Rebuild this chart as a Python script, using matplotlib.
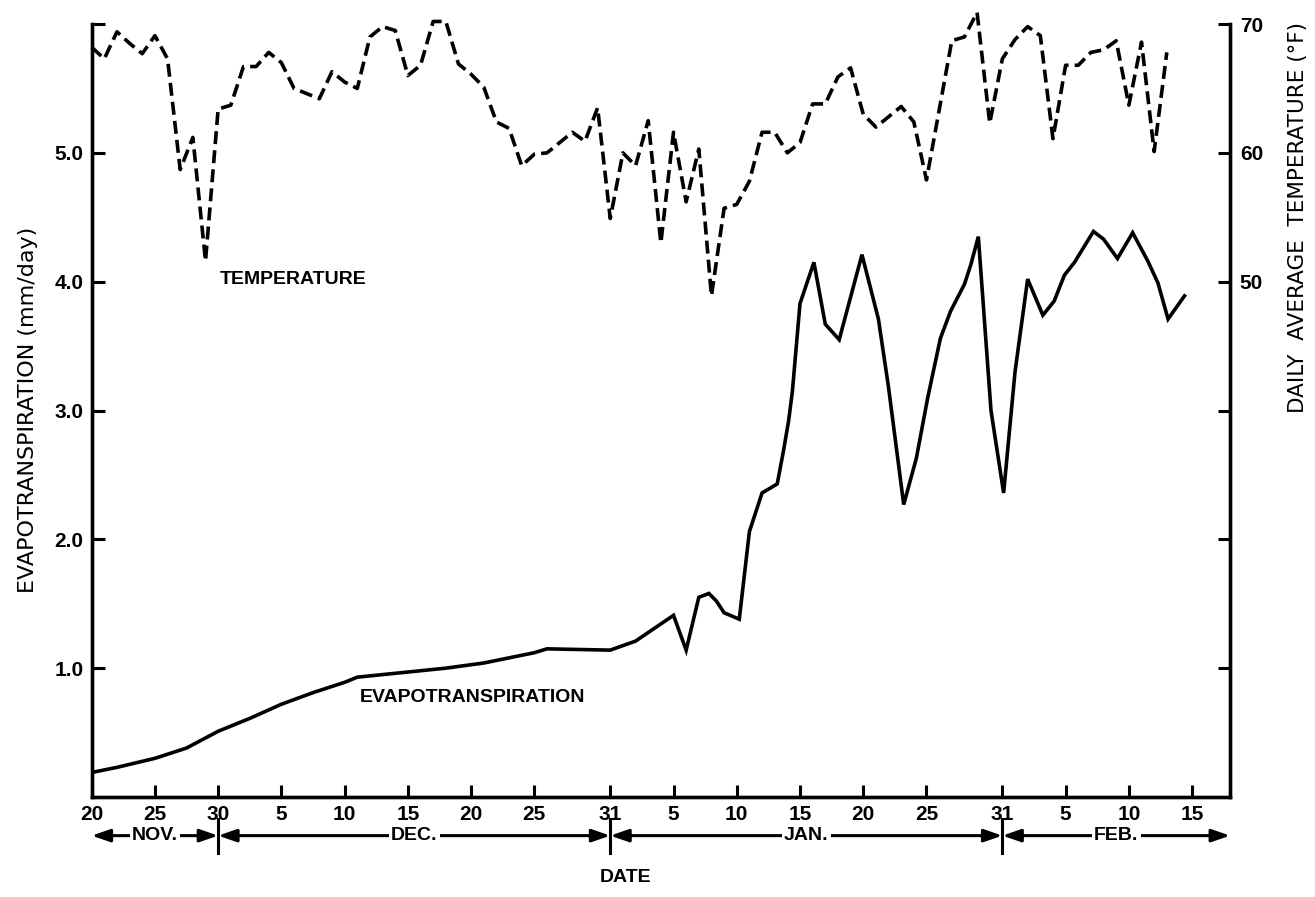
import matplotlib
matplotlib.use('Agg')
import matplotlib.pyplot as plt
from matplotlib.transforms import blended_transform_factory

# day 0 = Nov 20
et_days = [0, 2, 5, 7.5, 10, 12.5, 15, 17.5, 20, 21, 25, 28, 31, 33, 35, 36, 41, 43,
           46, 47, 48, 48.8, 49.4, 50, 51.2, 52, 53, 54.2, 54.7, 55.1, 55.4, 56, 57.1,
           58, 59.1, 60.9, 62.2, 63, 64.2, 65.2, 66.1, 67.1, 67.9, 69, 69.5, 70.1, 71.1,
           72.1, 73, 74, 75.2, 76.1, 76.9, 77.7, 79.2, 80, 81.1, 82.3, 83.5, 84.3, 85.1, 86.4]
et_values = [0.19, 0.23, 0.30, 0.38, 0.51, 0.61, 0.72, 0.81, 0.89, 0.93, 0.97, 1.00, 1.04,
             1.08, 1.12, 1.15, 1.14, 1.21, 1.41, 1.14, 1.55, 1.58, 1.52, 1.43, 1.38, 2.06,
             2.36, 2.43, 2.69, 2.92, 3.15, 3.83, 4.15, 3.67, 3.55, 4.21, 3.71, 3.18, 2.27,
             2.63, 3.10, 3.56, 3.77, 3.98, 4.13, 4.35, 3.00, 2.36, 3.30, 4.02, 3.74, 3.85,
             4.05, 4.15, 4.39, 4.33, 4.18, 4.38, 4.16, 3.99, 3.71, 3.89]

temp_days = [0, 1, 2, 3, 4, 5, 6, 7, 8, 9, 10, 11, 12, 13, 14, 15, 16, 17, 18, 19, 20,
             21, 22, 23, 24, 25, 26, 27, 28, 29, 30, 31, 32, 33, 34, 35, 36, 37, 38, 39,
             40, 41, 42, 43, 44, 45, 46, 47, 48, 49, 50, 51, 52, 53, 54, 55, 56, 57, 58,
             59, 60, 61, 62, 63, 64, 65, 66, 68, 69, 70, 71, 72, 73, 74, 75, 76, 77, 78,
             79, 80, 81, 82, 83, 84, 85]
temp_values = [68.2, 67.3, 69.4, 68.5, 67.7, 69.1, 67.3, 58.7, 61.2, 51.6, 63.4, 63.7,
               66.7, 66.7, 67.8, 67.0, 65.0, 64.6, 64.2, 66.3, 65.5, 65.0, 69.0, 69.8,
               69.5, 66.0, 66.8, 70.2, 70.2, 66.9, 66.1, 65.1, 62.4, 61.9, 59.0, 59.9,
               60.0, 60.8, 61.6, 60.9, 63.5, 54.9, 60.0, 59.0, 62.5, 53.0, 61.6, 56.2,
               60.3, 48.9, 55.7, 56.0, 57.8, 61.6, 61.6, 60.0, 60.8, 63.8, 63.8, 65.9,
               66.6, 63.0, 62.0, 62.8, 63.6, 62.4, 57.9, 68.7, 69.0, 70.9, 62.3, 67.3,
               68.8, 69.8, 69.1, 61.1, 66.8, 66.8, 67.8, 68.0, 68.7, 63.7, 68.6, 60.1, 67.8]

tick_days = [0, 5, 10, 15, 20, 25, 30, 35, 41, 46, 51, 56, 61, 66, 72, 77, 82, 87]
tick_labels = ['20', '25', '30', '5', '10', '15', '20', '25', '31',
               '5', '10', '15', '20', '25', '31', '5', '10', '15']
months = ['NOV.', 'DEC.', 'JAN.', 'FEB.']
month_edges = [0, 10, 41, 72, 90]

et_ticks = [1, 2, 3, 4, 5, 6]
et_tick_labels = ['1.0', '2.0', '3.0', '4.0', '5.0', '']
temp_ticks = [20, 30, 40, 50, 60, 70]
temp_tick_labels = ['', '', '', '50', '60', '70']

plt.rcParams['font.family'] = 'DejaVu Sans'
bold = dict(family='Liberation Sans', weight='bold')

fig = plt.figure(figsize=(13.15, 8.97), dpi=100)
ax = fig.add_axes([0.0697, 0.1115, 0.8657, 0.8617])
ax2 = ax.twinx()

ax.plot(et_days, et_values, color='black', lw=2.6, solid_joinstyle='miter')
ax2.plot(temp_days, temp_values, color='black', lw=2.6, dashes=(3.6, 1.7), clip_on=False)

ax.set_xlim(0, 90)
ax.set_ylim(0, 6)
ax2.set_ylim(10, 70)

for a in (ax, ax2):
    a.spines['top'].set_visible(False)
    for s in ('left', 'right', 'bottom'):
        a.spines[s].set_linewidth(2.4)

ax.set_xticks(tick_days)
ax.set_xticklabels(tick_labels, fontsize=15, **bold)
ax.set_yticks(et_ticks)
ax.set_yticklabels(et_tick_labels, fontsize=15, **bold)
ax2.set_yticks(temp_ticks)
ax2.set_yticklabels(temp_tick_labels, fontsize=15, **bold)
ax.tick_params(axis='both', direction='in', length=9, width=2.2, pad=6)
ax2.tick_params(axis='y', direction='in', length=9, width=2.2, pad=7)

# month spans with arrows below the date ticks
trans = blended_transform_factory(ax.transData, ax.transAxes)
row_y = -0.050
for name, start, end in zip(months, month_edges[:-1], month_edges[1:]):
    ax.annotate('', xy=(start, row_y), xytext=(end, row_y), xycoords=trans,
                textcoords=trans, annotation_clip=False,
                arrowprops=dict(arrowstyle='<|-|>,head_length=1.1,head_width=0.38',
                                color='black', lw=2.2, shrinkA=0, shrinkB=0))
    ax.text((start + end) / 2, row_y, name, transform=trans, ha='center', va='center',
            fontsize=14, bbox=dict(facecolor='white', edgecolor='none', pad=1.5), **bold)
for edge in month_edges[1:-1]:
    ax.plot([edge, edge], [-0.029, -0.072], transform=trans, color='black', lw=2.2,
            clip_on=False)

ax.text(15.9, 4.02, 'TEMPERATURE', ha='center', va='center', fontsize=14, **bold)
ax.text(30.1, 0.775, 'EVAPOTRANSPIRATION', ha='center', va='center', fontsize=14, **bold)

fig.text(0.021, 0.543, 'EVAPOTRANSPIRATION (mm/day)', rotation=90, ha='center',
         va='center', fontsize=16)
fig.text(0.987, 0.758, 'DAILY  AVERAGE  TEMPERATURE (°F)', rotation=90, ha='center',
         va='center', fontsize=15.5)
fig.text(0.476, 0.022, 'DATE', ha='center', va='center', fontsize=14, **bold)

fig.savefig('out.png', dpi=100, facecolor='white')
